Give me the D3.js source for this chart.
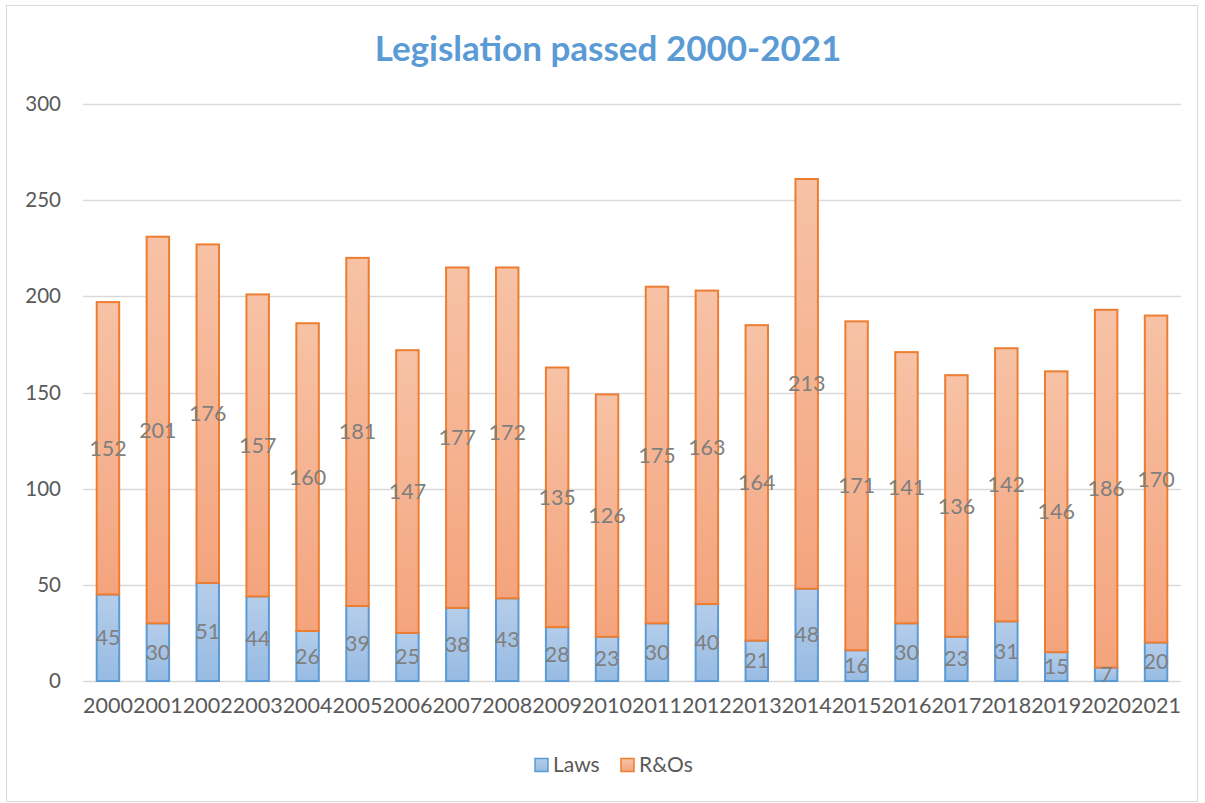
<!DOCTYPE html>
<html>
<head>
<meta charset="utf-8">
<script src="https://cdn.jsdelivr.net/npm/d3@7"></script>
<style>
  body { margin: 0; background: #fff; overflow: hidden; }
  text { font-family: Lato, "Open Sans", sans-serif; }
</style>
</head>
<body>
<div id="chart"></div>
<script>
// data
const years = ["2000", "2001", "2002", "2003", "2004", "2005", "2006", "2007", "2008", "2009", "2010",
    "2011", "2012", "2013", "2014", "2015", "2016", "2017", "2018", "2019", "2020", "2021"];
const laws = [45, 30, 51, 44, 26, 39, 25, 38, 43, 28, 23, 30, 40, 21, 48, 16, 30, 23, 31, 15, 7, 20];
const randos = [152, 201, 176, 157, 160, 181, 147, 177, 172, 135, 126, 175, 163, 164, 213, 171, 141, 136, 142, 146, 186, 170];
const yTicks = [0, 50, 100, 150, 200, 250, 300];
const seriesNames = ["Laws", "R&Os"];

// SVG dimensions
const width = 1205;
const height = 803;

const plotLeft = 83;
const plotRight = 1181;
const plotTop = 104;
const plotBottom = 681;

const svg = d3.select("#chart")
    .append("svg")
    .attr("width", width)
    .attr("height", height);

// gradients for bar fills (lighter at the top)
const defs = svg.append("defs");
const grads = [
    { id: "gradLaws", top: "#b5cdea", bottom: "#97bbe3" },
    { id: "gradRos", top: "#f7c2a6", bottom: "#f4a47d" }
];
grads.forEach(g => {
    const lg = defs.append("linearGradient")
        .attr("id", g.id)
        .attr("x1", 0).attr("y1", 0)
        .attr("x2", 0).attr("y2", 1);
    lg.append("stop").attr("offset", "0%").attr("stop-color", g.top);
    lg.append("stop").attr("offset", "100%").attr("stop-color", g.bottom);
});

// chart frame
svg.append("rect")
    .attr("x", 6.5)
    .attr("y", 5.5)
    .attr("width", 1191)
    .attr("height", 796)
    .attr("fill", "none")
    .attr("stroke", "#d9d9d9");

// title
svg.append("text")
    .attr("x", 608)
    .attr("y", 61)
    .attr("text-anchor", "middle")
    .attr("font-size", 35)
    .attr("font-weight", "bold")
    .attr("fill", "#5b9bd5")
    .text("Legislation passed 2000-2021");

// scales
const x = d3.scaleBand()
    .domain(years)
    .range([plotLeft, plotRight])
    .paddingInner(0.55)
    .paddingOuter(0.275);

const y = d3.scaleLinear()
    .domain([0, 300])
    .range([plotBottom, plotTop]);

// gridlines
svg.append("g")
    .selectAll("line")
    .data(yTicks)
    .enter().append("line")
    .attr("x1", plotLeft)
    .attr("x2", plotRight)
    .attr("y1", d => Math.round(y(d)) + 0.5)
    .attr("y2", d => Math.round(y(d)) + 0.5)
    .attr("stroke", "#d9d9d9")
    .attr("stroke-width", 1.5);

// y axis labels
const yAxis = svg.append("g")
    .attr("transform", `translate(${plotLeft - 22},0)`)
    .call(d3.axisLeft(y).tickValues(yTicks).tickSize(0).tickPadding(0));
yAxis.select(".domain").remove();
yAxis.selectAll("text")
    .attr("font-family", "Lato, sans-serif")
    .attr("font-size", 20.5)
    .attr("fill", "#595959");

// x axis labels
const xAxis = svg.append("g")
    .attr("transform", `translate(0,${plotBottom})`)
    .call(d3.axisBottom(x).tickSize(0).tickPadding(17));
xAxis.select(".domain").remove();
xAxis.selectAll("text")
    .attr("font-family", "Lato, sans-serif")
    .attr("font-size", 21.5)
    .attr("fill", "#595959");

// stacked data
const rows = years.map((yr, i) => ({ year: yr, Laws: laws[i], "R&Os": randos[i] }));
const stack = d3.stack().keys(seriesNames)(rows);
const fills = ["url(#gradLaws)", "url(#gradRos)"];
const strokes = ["#5b9bd5", "#ed7d31"];

stack.forEach((layer, li) => {
    const g = svg.append("g");
    g.selectAll("rect")
        .data(layer)
        .enter().append("rect")
        .attr("x", d => x(d.data.year))
        .attr("width", x.bandwidth())
        .attr("y", d => y(d[1]))
        .attr("height", d => y(d[0]) - y(d[1]))
        .attr("fill", fills[li])
        .attr("stroke", strokes[li])
        .attr("stroke-width", 2);
});

// data labels centered in each segment
stack.forEach(layer => {
    svg.append("g")
        .selectAll("text")
        .data(layer)
        .enter().append("text")
        .attr("x", d => x(d.data.year) + x.bandwidth() / 2)
        .attr("y", d => y((d[0] + d[1]) / 2))
        .attr("dy", "0.35em")
        .attr("text-anchor", "middle")
        .attr("font-size", 21.5)
        .attr("fill", "#7f7f7f")
        .text(d => d[1] - d[0]);
});

// legend
const legend = svg.append("g").attr("transform", "translate(535,765)");
const legendItems = [
    { name: "Laws", x: 0, fill: "url(#gradLaws)", stroke: "#5b9bd5" },
    { name: "R&Os", x: 86, fill: "url(#gradRos)", stroke: "#ed7d31" }
];
legendItems.forEach(it => {
    legend.append("rect")
        .attr("x", it.x)
        .attr("y", -6.5)
        .attr("width", 13)
        .attr("height", 13)
        .attr("fill", it.fill)
        .attr("stroke", it.stroke)
        .attr("stroke-width", 1.5);
    legend.append("text")
        .attr("x", it.x + 18)
        .attr("y", 0)
        .attr("dy", "0.35em")
        .attr("font-size", 21)
        .attr("fill", "#595959")
        .text(it.name);
});
</script>
</body>
</html>
